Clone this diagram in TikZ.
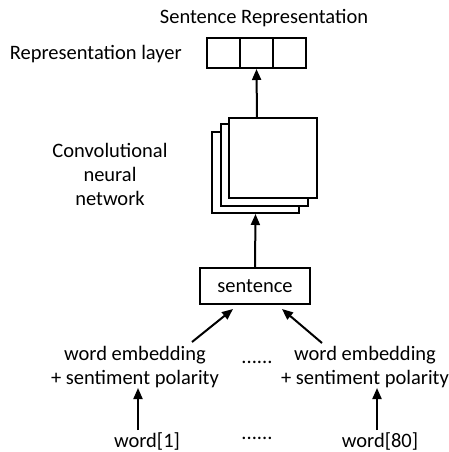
\documentclass[tikz,border=0pt]{standalone}
\usepackage{fontspec}
\setmainfont{Carlito}
\usetikzlibrary{arrows.meta}
\begin{document}
\begin{tikzpicture}[x=1pt,y=-1pt,
  lbl/.style={inner sep=0pt, font=\fontsize{20.5}{24}\selectfont},
  box/.style={draw, line width=2pt},
  conn/.style={line width=2pt, -{Triangle[length=11pt,width=9pt]}},
  sheet/.style={draw, line width=2pt, fill=white}]
\useasboundingbox (0,0) rectangle (449,452);

% output representation
\node[lbl] (title) at (264,18) {Sentence Representation};
\node[lbl, anchor=east] (replbl) at (182,54) {Representation layer};
\node[box, minimum width=33pt, minimum height=30pt, inner sep=0pt] (c1) at (223.5,53) {};
\node[box, minimum width=33pt, minimum height=30pt, inner sep=0pt] (c2) at (256.5,53) {};
\node[box, minimum width=33pt, minimum height=30pt, inner sep=0pt] (c3) at (289.5,53) {};

% stacked feature maps of the CNN
\node[sheet, minimum width=87pt, minimum height=81pt, inner sep=0pt] (m3) at (255.5,172.5) {};
\node[sheet, minimum width=87pt, minimum height=82pt, inner sep=0pt] (m2) at (264.5,165) {};
\node[sheet, minimum width=88pt, minimum height=80pt, inner sep=0pt] (m1) at (273,158) {};
\node[lbl, align=center] (cnnlbl) at (110,174) {Convolutional\\[0pt]neural\\[0pt]network};

% sentence node
\node[box, minimum width=110pt, minimum height=36pt, inner sep=0pt, lbl] (sent) at (255,286) {sentence};

% word embeddings
\node[lbl, align=center] (emb1) at (135,367) {word embedding\\[0pt]+ sentiment polarity};
\node[lbl, align=center] (emb2) at (365,367) {word embedding\\[0pt]+ sentiment polarity};
\node[lbl] (dots1) at (257,362) {......};

% input words
\node[lbl] (w1) at (147,441) {word[1]};
\node[lbl] (w80) at (380,441) {word[80]};
\node[lbl] (dots2) at (257,438) {......};

% connectors
\coordinate (m1top) at (257,118);
\coordinate (e1a) at (192,342);
\coordinate (e1b) at (233,309);
\coordinate (e2a) at (322,343);
\coordinate (e2b) at (282,309);
\coordinate (w1a) at (138,430);
\coordinate (w1b) at (138,388);
\coordinate (w2a) at (377,430);
\coordinate (w2b) at (377,388);
\draw[conn] (m1top) -- (c2.south);
\draw[conn] (sent.north) -- (m3.south);
\draw[conn] (e1a) -- (e1b);
\draw[conn] (e2a) -- (e2b);
\draw[conn] (w1a) -- (w1b);
\draw[conn] (w2a) -- (w2b);
\end{tikzpicture}
\end{document}
